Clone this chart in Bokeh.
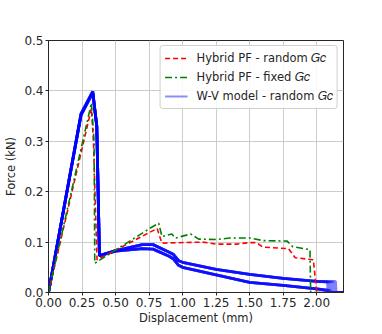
from bokeh.plotting import figure
from bokeh.models import Range1d, FixedTicker, Legend, LegendItem
from bokeh.embed import file_html
from bokeh.resources import INLINE

# Hybrid PF - random Gc
red_x = [0.0, 0.32, 0.335, 0.362, 0.81, 0.846, 1.15, 1.25, 1.40, 1.50, 1.55, 1.60, 1.79, 1.84, 1.975, 2.0, 2.2]
red_y = [0.0, 0.365, 0.30, 0.065, 0.127, 0.098, 0.100, 0.096, 0.096, 0.099, 0.099, 0.090, 0.087, 0.069, 0.065, 0.0, 0.0]

# Hybrid PF - fixed Gc
grn_x = [0.0, 0.32, 0.34, 0.345, 0.76, 0.822, 0.846, 0.92, 0.945, 1.06, 1.12, 1.25, 1.35, 1.50, 1.60, 1.78, 1.82, 1.95, 1.955, 2.2]
grn_y = [0.0, 0.376, 0.30, 0.058, 0.128, 0.1375, 0.111, 0.116, 0.108, 0.116, 0.106, 0.105, 0.108, 0.108, 0.103, 0.102, 0.091, 0.085, 0.0, 0.0]

# W-V model - random Gc (upper and lower bundles)
wv_up_x = [0.0, 0.243, 0.33, 0.36, 0.38, 0.50, 0.70, 0.78, 0.90, 0.93, 0.97, 1.00, 1.25, 1.50, 1.75, 2.00]
wv_up_y = [0.0, 0.355, 0.399, 0.33, 0.073, 0.083, 0.095, 0.095, 0.080, 0.076, 0.063, 0.060, 0.046, 0.036, 0.028, 0.022]
wv_lo_x = [0.0, 0.243, 0.33, 0.36, 0.38, 0.50, 0.70, 0.78, 0.90, 0.93, 0.97, 1.00, 1.25, 1.50, 1.75, 2.00]
wv_lo_y = [0.0, 0.352, 0.396, 0.33, 0.073, 0.082, 0.087, 0.086, 0.072, 0.067, 0.054, 0.050, 0.035, 0.020, 0.014, 0.007]
wv_up_end = [2.08, 2.10, 2.12, 2.14]
wv_up_endy = [0.021, 0.020, 0.021, 0.022]
wv_lo_end = [2.05, 2.07, 2.09, 2.10]
wv_lo_endy = [0.005, 0.005, 0.004, 0.004]

x_ticks = [0.0, 0.25, 0.5, 0.75, 1.0, 1.25, 1.5, 1.75, 2.0]
y_ticks = [0.0, 0.1, 0.2, 0.3, 0.4, 0.5]
x_max = 2.2
y_max = 0.5

FONT = "DejaVu Sans"
INK = "#262626"

p = figure(width=366, height=328, output_backend="svg", toolbar_location=None,
           x_range=Range1d(0, x_max), y_range=Range1d(0, y_max),
           min_border_left=48, min_border_right=23, min_border_top=40, min_border_bottom=36)
p.background_fill_color = "white"
p.border_fill_color = "white"
p.outline_line_color = INK
p.outline_line_width = 1

p.xaxis.ticker = FixedTicker(ticks=x_ticks)
p.yaxis.ticker = FixedTicker(ticks=y_ticks)
p.xaxis.major_label_overrides = {t: f"{t:.2f}" for t in x_ticks}
p.yaxis.major_label_overrides = {t: f"{t:.1f}" for t in y_ticks}
for ax in (p.xaxis, p.yaxis):
    ax.minor_tick_line_color = None
    ax.major_tick_out = 3
    ax.major_tick_in = 0
    ax.axis_line_color = INK
    ax.major_tick_line_color = INK
    ax.major_label_text_font = FONT
    ax.major_label_text_font_size = "12px"
    ax.major_label_text_color = INK
    ax.axis_label_text_font = FONT
    ax.axis_label_text_font_size = "11.5px"
    ax.axis_label_text_font_style = "normal"
    ax.axis_label_text_color = INK
p.xaxis.axis_label = "Displacement (mm)"
p.yaxis.axis_label = "Force (kN)"
p.xaxis.major_label_standoff = 2
p.yaxis.major_label_standoff = 2
p.xaxis.axis_label_standoff = 1
p.yaxis.axis_label_standoff = 3

p.xgrid.grid_line_color = "#cccccc"
p.ygrid.grid_line_color = "#cccccc"
p.xgrid.grid_line_width = 1
p.ygrid.grid_line_width = 1

blue_renderers = []
for ex, ey in zip(wv_up_end, wv_up_endy):
    xs = wv_up_x + [ex, ex + 0.005, x_max]
    ys = wv_up_y + [ey, 0.0, 0.0]
    blue_renderers.append(p.line(xs, ys, line_color="blue", line_width=2.8, line_alpha=0.5))
for ex, ey in zip(wv_lo_end, wv_lo_endy):
    xs = wv_lo_x + [ex, ex + 0.005, x_max]
    ys = wv_lo_y + [ey, 0.0, 0.0]
    blue_renderers.append(p.line(xs, ys, line_color="blue", line_width=2.8, line_alpha=0.5))

r_red = p.line(red_x, red_y, line_color="red", line_width=1.6, line_dash="5 3")
r_grn = p.line(grn_x, grn_y, line_color="green", line_width=1.6, line_dash="7 3 2 3")
# legend-only proxy placed outside the visible range
r_leg_blue = p.line([-1.0, -0.9], [-1.0, -1.0], line_color="blue", line_width=1.8, line_alpha=0.45)

legend = Legend(items=[
    LegendItem(label="Hybrid PF - random 𝐺𝑐", renderers=[r_red]),
    LegendItem(label="Hybrid PF - fixed 𝐺𝑐", renderers=[r_grn]),
    LegendItem(label="W-V model - random 𝐺𝑐", renderers=[r_leg_blue]),
], location="top_right")
legend.label_text_font = FONT
legend.label_text_font_size = "11.5px"
legend.label_text_color = INK
legend.border_line_color = "#d0d0d0"
legend.border_line_alpha = 1
legend.border_radius = 3
legend.background_fill_alpha = 0.85
legend.glyph_width = 23
legend.glyph_height = 16
legend.label_height = 16
legend.label_standoff = 9
legend.spacing = 3
legend.padding = 4
legend.margin = 5
p.add_layout(legend)

open("out.html", "w").write(file_html(p, INLINE))
